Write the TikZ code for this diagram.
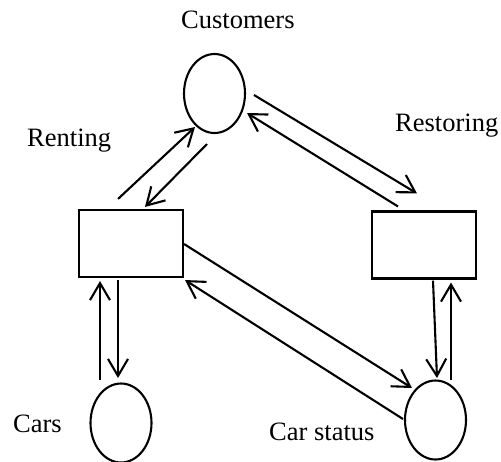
\documentclass[tikz,border=0pt]{standalone}
\usepackage{fontspec}
\setmainfont{Liberation Serif}
\usetikzlibrary{arrows.meta,shapes.geometric,calc}
\begin{document}
\begin{tikzpicture}[x=1pt,y=-1pt,
  place/.style={draw,ellipse,line width=2.1pt,inner sep=0pt,minimum width=61pt,minimum height=79pt},
  trans/.style={draw,rectangle,line width=2.1pt,inner sep=0pt,minimum width=104pt,minimum height=67pt},
  arr/.style={line width=2.1pt,-{Straight Barb[length=17pt,width=20pt]}},
  lbl/.style={inner sep=0pt,font=\fontsize{26.5}{30}\selectfont}]
\useasboundingbox (0,0) rectangle (501,461);

% places and transitions
\node[place] (cust) at (214.5,93.5) {};
\node[place] (cars) at (121,423) {};
\node[place] (status) at (435.5,420) {};
\node[trans] (rent) at (131,243.5) {};
\node[trans] (rest) at (424,245) {};

% labels
\node[lbl,anchor=base west] (lcust) at (181,28) {Customers};
\node[lbl,anchor=base west] (lrent) at (27,146) {Renting};
\node[lbl,anchor=base west] (lrest) at (395,131) {Restoring};
\node[lbl,anchor=base east] (lcars) at (62,432) {Cars};
\node[lbl,anchor=base west] (lstatus) at (269,440) {Car status};

% arcs between Renting and Customers
\draw[arr] ($(rent.north)+(-13,-10)$) -- ($(cust.center)+(-19.5,33.5)$);
\draw[arr] ($(cust.center)+(-7.5,50.5)$) -- ($(rent.north)+(14,-2)$);

% arcs between Customers and Restoring
\draw[arr] ($(cust.center)+(39.5,1.5)$) -- ($(rest.north)+(-7,-17)$);
\draw[arr] ($(rest.north)+(-26,-4)$) -- ($(cust.center)+(32.5,19.5)$);

% arcs between Renting and Cars
\draw[arr] ($(rent.south)+(-13,2)$) -- ($(cars.center)+(-3,-45)$);
\draw[arr] ($(cars.center)+(-21,-43)$) -- ($(rent.south)+(-31,3)$);

% arcs between Restoring and Car status
\draw[arr] ($(rest.south)+(9,1)$) -- ($(status.center)+(1.5,-42)$);
\draw[arr] ($(status.center)+(15.5,-40)$) -- ($(rest.south)+(27,3)$);

% arcs between Renting and Car status
\draw[arr] ($(rent.east)+(0,0.5)$) -- ($(status.center)+(-23.5,-32)$);
\draw[arr] ($(status.west)+(-1,-1)$) -- ($(rent.south east)+(1,2)$);
\end{tikzpicture}
\end{document}
